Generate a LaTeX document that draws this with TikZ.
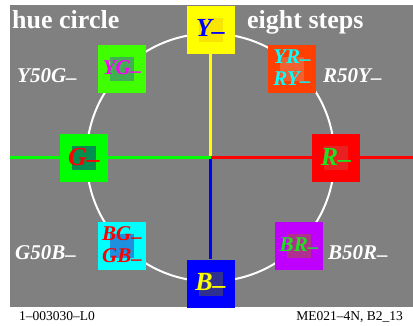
\documentclass[tikz,border=0pt]{standalone}
\usepackage{fontspec}
\setmainfont{Liberation Serif}
\usetikzlibrary{backgrounds}
\definecolor{bggray}{HTML}{808080}
\definecolor{pyellow}{HTML}{FFFF00}
\definecolor{pgreen}{HTML}{00FF00}
\definecolor{pred}{HTML}{FF0000}
\definecolor{pblue}{HTML}{0000FF}
\definecolor{pcyan}{HTML}{00FFFF}
\definecolor{pmagenta}{HTML}{FF00FF}
\definecolor{yin}{HTML}{F8E600}
\definecolor{ygout}{HTML}{40FF00}
\definecolor{ygin}{HTML}{40B050}
\definecolor{yrout}{HTML}{FF4000}
\definecolor{yrin}{HTML}{F06030}
\definecolor{gin}{HTML}{009050}
\definecolor{rin}{HTML}{E82020}
\definecolor{bgin}{HTML}{1E90E0}
\definecolor{brout}{HTML}{C000FF}
\definecolor{brin}{HTML}{B03090}
\definecolor{bin}{HTML}{303090}
\definecolor{rtext}{HTML}{20E020}
\newcommand{\lowdash}{\raisebox{-0.1em}{\textendash}}

\begin{document}
\begin{tikzpicture}[x=1pt, y=-1pt,
  huebox/.style n args={3}{fill=#1, text=#3, minimum size=48pt, inner sep=0pt,
    font=\bfseries\itshape\fontsize{26}{26}\selectfont,
    path picture={\fill[#2] ([shift={(-12pt,-12pt)}]path picture bounding box.center)
      rectangle ([shift={(12pt,12pt)}]path picture bounding box.center);}},
  pairtext/.style={font=\bfseries\itshape\fontsize{21}{22}\selectfont, align=left},
  steplabel/.style={text=white, anchor=base west, inner sep=0pt, font=\bfseries\itshape\fontsize{21}{21}\selectfont},
  title/.style={text=white, anchor=base west, inner sep=0pt, font=\bfseries\fontsize{26}{26}\selectfont},
  foot/.style={inner sep=0pt, font=\fontsize{13.5}{13.5}\selectfont},
  axis/.style={line width=2.5pt}
]
\useasboundingbox (0,0) rectangle (413,325);

\node[huebox={pyellow}{yin}{pblue}] (Y) at (210.5,29.5) {Y\lowdash};
\node[huebox={ygout}{ygin}{pmagenta}, pairtext] (YG) at (122,69) {YG\lowdash};
\node[huebox={yrout}{yrin}{pcyan}, pairtext] (YR) at (292,69) {YR\lowdash\\RY\lowdash};
\node[huebox={pgreen}{gin}{pred}] (G) at (84,158) {G\lowdash};
\node[huebox={pred}{rin}{rtext}] (R) at (336,158) {R\lowdash};
\node[huebox={pcyan}{bgin}{pred}, pairtext] (BG) at (122,246) {BG\lowdash\\GB\lowdash};
\node[huebox={brout}{brin}{rtext}, pairtext] (BR) at (299,246) {BR\lowdash};
\node[huebox={pblue}{bin}{pyellow}] (B) at (210.5,283.5) {B\lowdash};

\node[title] (hue) at (12,28) {hue circle};
\node[title] (eight) at (247,28) {eight steps};
\node[steplabel] (y50g) at (17,82) {Y50G\lowdash};
\node[steplabel] (r50y) at (323,82) {R50Y\lowdash};
\node[steplabel] (g50b) at (15,259) {G50B\lowdash};
\node[steplabel] (b50r) at (328,259) {B50R\lowdash};
\node[foot, anchor=base west] (code) at (19,320) {1\textendash 003030\textendash L0};
\node[foot, anchor=base east] (ref) at (403,320) {ME021\textendash 4N, B2\_13};

\coordinate (c) at (210.5,157.5);
\coordinate (w) at (10,157.5);
\coordinate (e) at (413,157.5);

\begin{scope}[on background layer]
\fill[bggray] (10,5) rectangle (413,307);
\draw[white, line width=2pt] (c) circle (124pt);
\draw[axis, pyellow] (c) -- (Y);
\draw[axis, pblue] (c) -- (B);
\draw[axis, pgreen] (w) -- (c);
\draw[axis, pred] (c) -- (e);
\end{scope}
\end{tikzpicture}
\end{document}
